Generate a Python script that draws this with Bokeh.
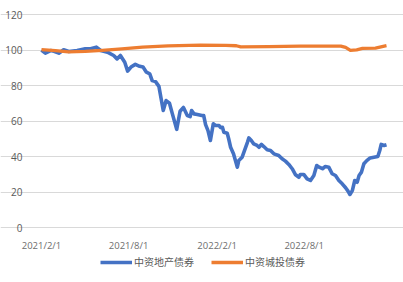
import pandas as pd
from bokeh.plotting import figure
from bokeh.models import (Range1d, FixedTicker, CustomJSTickFormatter, Legend, LegendItem,
                          ColumnDataSource, DatetimeAxis, LinearAxis, Grid)
from bokeh.embed import file_html
from bokeh.resources import INLINE

series_names = ["中资地产债券", "中资城投债券"]
tick_dates = ["2021-02-01", "2021-08-01", "2022-02-01", "2022-08-01"]
y_ticks = [0, 20, 40, 60, 80, 100, 120]

blue_dates = [
    "2021-02-01", "2021-02-09", "2021-02-20", "2021-02-27", "2021-03-09", "2021-03-19",
    "2021-03-30", "2021-04-16", "2021-05-03", "2021-05-14", "2021-05-26", "2021-06-04",
    "2021-06-18", "2021-07-01", "2021-07-08", "2021-07-15", "2021-07-24", "2021-07-30",
    "2021-08-06", "2021-08-15", "2021-08-24", "2021-08-31", "2021-09-07", "2021-09-14",
    "2021-09-19", "2021-09-26", "2021-10-03", "2021-10-08", "2021-10-12", "2021-10-18",
    "2021-10-25", "2021-10-31", "2021-11-09", "2021-11-16", "2021-11-23", "2021-12-01",
    "2021-12-07", "2021-12-10", "2021-12-15", "2021-12-22", "2021-12-31", "2022-01-04",
    "2022-01-08", "2022-01-13", "2022-01-18", "2022-01-24", "2022-01-29", "2022-02-05",
    "2022-02-08", "2022-02-12", "2022-02-15", "2022-02-22", "2022-02-25", "2022-03-01",
    "2022-03-07", "2022-03-11", "2022-03-15", "2022-03-18", "2022-03-25", "2022-03-30",
    "2022-04-05", "2022-04-08", "2022-04-13", "2022-04-18", "2022-04-25", "2022-04-29",
    "2022-05-04", "2022-05-09", "2022-05-16", "2022-05-23", "2022-05-30", "2022-06-09",
    "2022-06-16", "2022-06-23", "2022-06-30", "2022-07-07", "2022-07-14", "2022-07-21",
    "2022-07-24", "2022-07-31", "2022-08-07", "2022-08-14", "2022-08-21", "2022-08-27",
    "2022-09-01", "2022-09-08", "2022-09-14", "2022-09-21", "2022-09-28", "2022-10-05",
    "2022-10-12", "2022-10-19", "2022-10-26", "2022-10-31", "2022-11-04", "2022-11-09",
    "2022-11-14", "2022-11-19", "2022-11-23", "2022-11-28", "2022-12-03", "2022-12-09",
    "2022-12-16", "2022-12-24", "2023-01-01", "2023-01-05", "2023-01-08", "2023-01-14",
    "2023-01-19",
]
blue_values = [
    100.0, 98.2, 99.7, 99.3, 98.2, 100.1,
    99.2, 99.7, 100.7, 100.7, 101.6, 99.7,
    98.8, 96.9, 95.0, 96.9, 93.1, 88.1,
    90.4, 91.9, 90.8, 90.4, 87.5, 86.6,
    82.8, 82.2, 79.5, 72.0, 65.9, 71.5,
    70.0, 64.0, 55.3, 65.5, 67.6, 63.1,
    62.5, 65.9, 64.0, 63.7, 63.1, 63.1,
    58.0, 54.6, 49.0, 58.4, 57.5, 57.5,
    56.3, 56.5, 53.7, 53.1, 50.0, 45.2,
    41.5, 37.7, 34.0, 37.7, 39.6, 43.4,
    48.0, 50.5, 49.0, 47.1, 46.2, 45.2,
    46.8, 45.6, 43.8, 43.4, 41.5, 40.6,
    38.7, 37.4, 35.5, 33.1, 29.7, 28.3,
    29.9, 29.9, 27.4, 26.5, 29.3, 34.9,
    34.0, 33.1, 34.4, 34.0, 30.3, 29.3,
    26.5, 24.6, 22.4, 20.5, 18.6, 20.8,
    26.5, 25.5, 29.3, 31.2, 35.9, 37.7,
    39.2, 39.6, 40.0, 43.4, 46.8, 46.2,
    46.6,
]

orange_dates = [
    "2021-02-01", "2021-03-02", "2021-03-29", "2021-05-03", "2021-06-07", "2021-07-18",
    "2021-08-30", "2021-10-22", "2021-12-28", "2022-02-19", "2022-03-13", "2022-03-22",
    "2022-05-19", "2022-07-24", "2022-10-16", "2022-10-26", "2022-11-05", "2022-11-18",
    "2022-11-30", "2022-12-27", "2023-01-19",
]
orange_values = [
    100.2, 99.7, 98.9, 99.2, 99.8, 100.6,
    101.6, 102.3, 102.7, 102.6, 102.4, 101.8,
    101.9, 102.2, 102.2, 101.5, 99.8, 100.1,
    100.9, 101.1, 102.4,
]

blue_src = ColumnDataSource(dict(x=pd.to_datetime(blue_dates), y=blue_values))
orange_src = ColumnDataSource(dict(x=pd.to_datetime(orange_dates), y=orange_values))

# Layout: the whole canvas is the frame; the plot area proper spans
# x pixels 41..386 and y pixels 14..227 (value 120..0).
W, H = 403, 282
PL, PR, PT, PB = 41, 386, 14, 227
ms = lambda d: pd.Timestamp(d).value // 10**6
x0, x1 = ms(blue_dates[0]), ms(blue_dates[-1])
ppm = (PR - PL) / (x1 - x0)
y_top = y_ticks[-1]
ppu = (PB - PT) / (y_top - y_ticks[0])

p = figure(width=W, height=H, output_backend="svg", toolbar_location=None,
           x_axis_location=None, y_axis_location=None,
           x_range=Range1d(x0 - PL / ppm, x1 + (W - PR) / ppm),
           y_range=Range1d(-(H - PB) / ppu, y_top + PT / ppu),
           min_border=0)
p.outline_line_color = None
p.background_fill_color = "white"
p.border_fill_color = "white"
p.xgrid.visible = False
p.ygrid.visible = False

ygrid = Grid(dimension=1, ticker=FixedTicker(ticks=y_ticks), bounds=(x0, x1),
             grid_line_color="#D9D9D9", grid_line_width=1)
p.add_layout(ygrid, "center")

blue = p.line("x", "y", source=blue_src, line_color="#4472C4", line_width=3.6,
              line_join="round")
orange = p.line("x", "y", source=orange_src, line_color="#ED7D31", line_width=3.3,
                line_join="round")

xaxis = DatetimeAxis(fixed_location=0, bounds=(x0, x1))
xaxis.ticker = FixedTicker(ticks=[ms(d) for d in tick_dates])
xaxis.formatter = CustomJSTickFormatter(code="""
const d = new Date(tick);
return d.getUTCFullYear() + '/' + (d.getUTCMonth() + 1) + '/' + d.getUTCDate();
""")
p.add_layout(xaxis, "below")

yaxis = LinearAxis(fixed_location=x0)
yaxis.ticker = FixedTicker(ticks=y_ticks)
p.add_layout(yaxis, "left")

for ax in (xaxis, yaxis):
    ax.major_tick_line_color = None
    ax.minor_tick_line_color = None
    ax.major_label_text_font = "Open Sans"
xaxis.axis_line_color = "#D9D9D9"
yaxis.axis_line_color = None
xaxis.major_label_text_color = "#6E6E6E"
yaxis.major_label_text_color = "#595959"
xaxis.major_label_text_font_size = "9.5px"
yaxis.major_label_text_font_size = "10px"
xaxis.major_label_standoff = 5
yaxis.major_label_standoff = 13

legend = Legend(items=[LegendItem(label=series_names[0], renderers=[blue]),
                       LegendItem(label=series_names[1], renderers=[orange])],
                location=(100, H - 269), orientation="horizontal",
                glyph_width=32, glyph_height=12, label_height=12,
                label_standoff=2, spacing=17, padding=0, margin=0,
                border_line_color=None, background_fill_alpha=0,
                label_text_font="Noto Sans CJK SC", label_text_font_size="10px",
                label_text_color="#595959")
p.add_layout(legend, "center")

open("out.html", "w").write(file_html(p, INLINE))
